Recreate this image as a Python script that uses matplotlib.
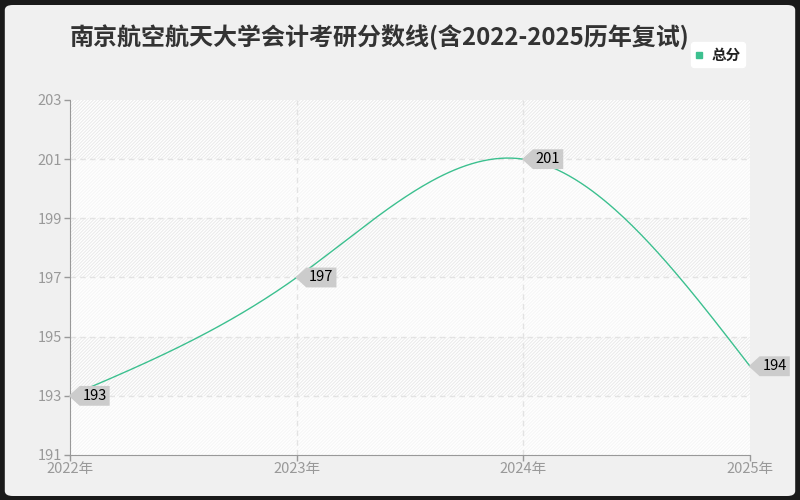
import numpy as np
import matplotlib
matplotlib.use("Agg")
from matplotlib import pyplot as plt
from matplotlib.patches import FancyBboxPatch
from matplotlib.path import Path

plt.rcParams['font.family'] = ['Noto Sans CJK SC', 'DejaVu Sans']
plt.rcParams['hatch.linewidth'] = 0.8

years = [2022, 2023, 2024, 2025]
year_labels = ["2022年", "2023年", "2024年", "2025年"]
scores = [193, 197, 201, 194]
y_ticks = [191, 193, 195, 197, 199, 201, 203]
title = "南京航空航天大学会计考研分数线(含2022-2025历年复试)"
series_name = "总分"
line_color = "#3cc08f"


def natural_spline(xs, ys, n=80):
    # natural cubic spline through the data points (for a smooth line)
    xs = np.asarray(xs, dtype=float)
    ys = np.asarray(ys, dtype=float)
    k = len(xs)
    h = np.diff(xs)
    A = np.zeros((k, k))
    b = np.zeros(k)
    A[0, 0] = 1
    A[-1, -1] = 1
    for i in range(1, k - 1):
        A[i, i - 1] = h[i - 1]
        A[i, i] = 2 * (h[i - 1] + h[i])
        A[i, i + 1] = h[i]
        b[i] = 6 * ((ys[i + 1] - ys[i]) / h[i] - (ys[i] - ys[i - 1]) / h[i - 1])
    M = np.linalg.solve(A, b)
    out_x, out_y = [], []
    for i in range(k - 1):
        t = np.linspace(xs[i], xs[i + 1], n)
        a = (xs[i + 1] - t) / h[i]
        c = (t - xs[i]) / h[i]
        y = (a * ys[i] + c * ys[i + 1]
             + ((a**3 - a) * M[i] + (c**3 - c) * M[i + 1]) * h[i]**2 / 6)
        out_x.append(t)
        out_y.append(y)
    return np.concatenate(out_x), np.concatenate(out_y)


def tag_box(x0, y0, width, height, mutation_size):
    # grey label tag with a point on its left side
    pad = 0.2 * mutation_size
    x0, y0 = x0 - pad, y0 - pad
    w, hh = width + 2 * pad, height + 2 * pad
    tip = hh * 0.55
    verts = [(x0 - tip, y0 + hh / 2), (x0, y0), (x0 + w, y0), (x0 + w, y0 + hh),
             (x0, y0 + hh), (x0 - tip, y0 + hh / 2)]
    codes = [Path.MOVETO] + [Path.LINETO] * 4 + [Path.CLOSEPOLY]
    return Path(verts, codes)


fig = plt.figure(figsize=(8, 5), dpi=100)
fig.patch.set_facecolor("#1a1a1a")
bg = FancyBboxPatch((0.006, 0.008), 0.988, 0.982,
                    boxstyle="round,pad=0,rounding_size=0.01",
                    transform=fig.transFigure, facecolor="#f0f0f0",
                    edgecolor="none", zorder=-10)
fig.patches.append(bg)

ax = fig.add_axes([0.0875, 0.09, 0.85, 0.71])
ax.set_zorder(1)
ax.set_facecolor("#ffffff")

# alternating hatched bands
for k, lo in enumerate(y_ticks[:-1]):
    ec = "#ececec" if k % 2 == 1 else "#f6f6f6"
    ax.axhspan(lo, lo + 2, facecolor="#ffffff", edgecolor=ec,
               hatch="//////////", linewidth=0, zorder=0)

for yv in y_ticks[1:-1]:
    ax.axhline(yv, color="#e3e3e3", linestyle=(0, (4, 3)), linewidth=1, zorder=1)
for xv in years[1:-1]:
    ax.axvline(xv, color="#e3e3e3", linestyle=(0, (4, 3)), linewidth=1, zorder=1)

sx, sy = natural_spline(years, scores)
ax.plot(sx, sy, color=line_color, linewidth=1, zorder=3)

for xv, yv in zip(years, scores):
    ax.annotate(str(yv), xy=(xv, yv), xytext=(9, 0), textcoords="offset points",
                ha="left", va="center", fontsize=10.5, color="#000000", zorder=5,
                bbox=dict(boxstyle=tag_box, facecolor="#cccccc", edgecolor="none"),
                annotation_clip=False)

ax.set_xlim(years[0], years[-1])
ax.set_ylim(y_ticks[0], y_ticks[-1])
ax.set_xticks(years)
ax.set_xticklabels(year_labels)
ax.set_yticks(y_ticks)
ax.tick_params(colors="#999999", labelsize=10.5, length=4, width=1)
ax.tick_params(axis="x", pad=1)
ax.tick_params(axis="y", pad=2)
for side in ["top", "right"]:
    ax.spines[side].set_visible(False)
for side in ["left", "bottom"]:
    ax.spines[side].set_color("#999999")

fig.text(0.474, 0.926, title, ha="center", va="center", fontsize=17.3,
         fontweight="bold", color="#333333")

leg = ax.legend([plt.Line2D([], [], marker="s", color=line_color, linestyle="none",
                            markersize=4)], [series_name],
                loc="upper right", bbox_to_anchor=(0.94, 0.93),
                bbox_transform=fig.transFigure, frameon=True, fontsize=10.5,
                handlelength=0.6, handletextpad=0.5, borderpad=0.3, fancybox=True)
leg.get_frame().set_edgecolor("#ffffff")
leg.get_frame().set_facecolor("#ffffff")
leg.get_frame().set_alpha(1)
for txt in leg.get_texts():
    txt.set_color("#222222")
    txt.set_fontweight("bold")

fig.savefig("out.png", dpi=100, facecolor=fig.get_facecolor())
